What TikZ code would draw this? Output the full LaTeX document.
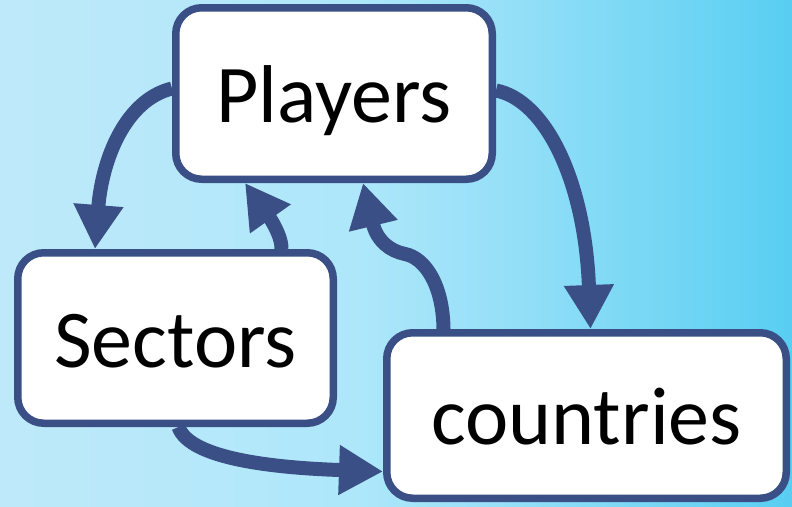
\documentclass[tikz,border=0pt]{standalone}
\usepackage{fontspec}
\setmainfont{Carlito}
\usetikzlibrary{arrows.meta}
\definecolor{boxblue}{RGB}{58,79,133}
\definecolor{skya}{RGB}{190,233,250}
\definecolor{skyb}{RGB}{174,231,250}
\definecolor{skyc}{RGB}{148,223,248}
\definecolor{skyd}{RGB}{114,214,244}
\definecolor{skye}{RGB}{88,206,242}
\pgfdeclarehorizontalshading{sky}{100bp}{color(0bp)=(skya); color(25bp)=(skya);
  color(47.5bp)=(skyb); color(57.5bp)=(skyc); color(67.5bp)=(skyd);
  color(75bp)=(skye); color(100bp)=(skye)}
\begin{document}
\begin{tikzpicture}[x=1pt,y=-1pt,
  block/.style={draw=boxblue,line width=7.5pt,fill=white,rounded corners=26pt,
    font=\fontsize{82}{96}\selectfont,text height=62pt,text depth=4pt},
  link/.style={draw=boxblue,line width=14pt,
    -{Triangle[length=44pt,width=47pt]}}]
  \shade[shading=sky] (0,0) rectangle (792,506);
  \useasboundingbox (0,0) rectangle (792,506);

  \node[block,minimum width=316.5pt,minimum height=171.5pt] (players) at (334,93.5) {Players};
  \node[block,minimum width=315.5pt,minimum height=170.5pt] (sectors) at (175.5,338) {Sectors};
  \node[block,minimum width=399.5pt,minimum height=165.5pt] (countries) at (586.5,415.5) {countries};

  \draw[link] ([yshift=5pt]players.west) .. controls (125,100) and (102,160) .. ([xshift=81pt]sectors.north west);
  \draw[link] ([xshift=106pt]sectors.north) .. controls (282,232) and (262,207) .. ([xshift=-89pt]players.south);
  \draw[link] ([xshift=-143pt]countries.north) .. controls (443,285) and (425,258) .. (405,254)
    .. controls (390,251) and (377,241) .. ([xshift=29pt]players.south);
  \draw[link] ([yshift=3pt]players.east) .. controls (545,100) and (585,180) .. ([xshift=4pt]countries.north);
  \draw[link] ([xshift=3pt]sectors.south) .. controls (190,460) and (280,468) .. ([yshift=-56pt]countries.west);
\end{tikzpicture}
\end{document}
